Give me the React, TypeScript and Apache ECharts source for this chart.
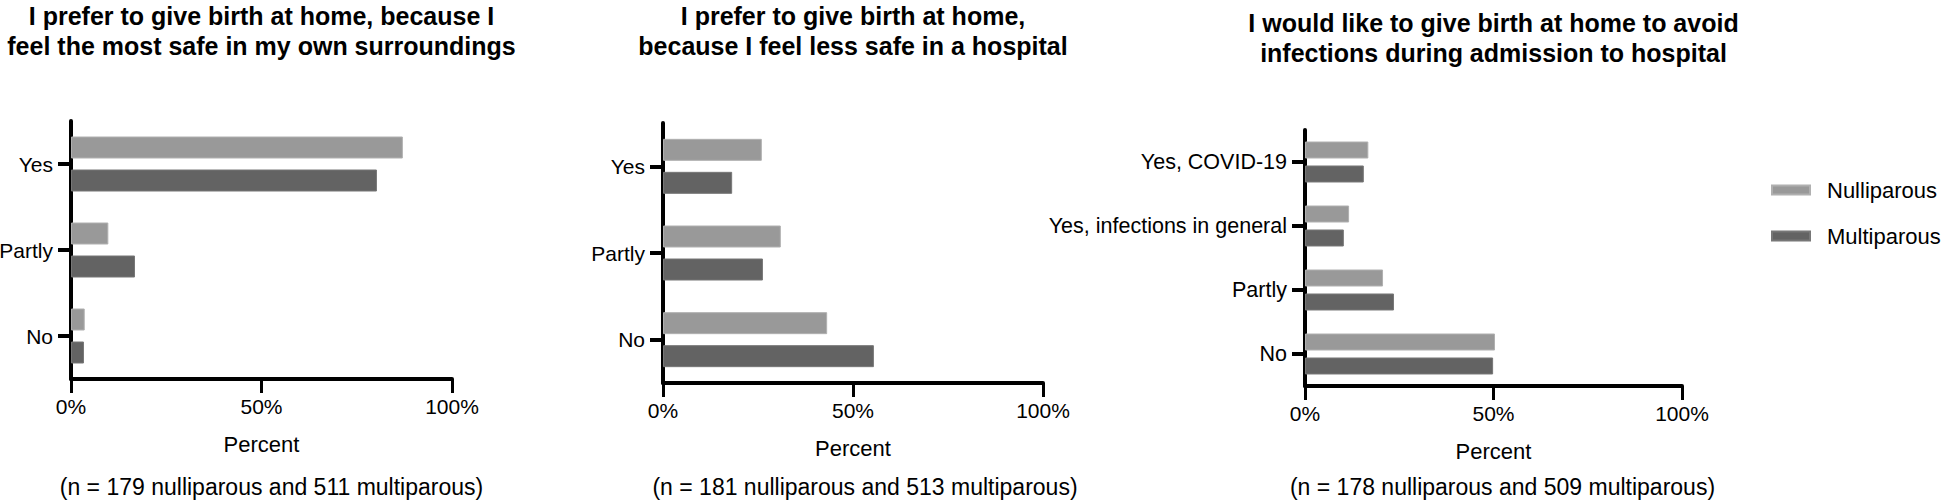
import React, { useEffect, useRef } from "react";
import * as echarts from "echarts";

const seriesNames = ["Nulliparous", "Multiparous"];

const categories1 = ["Yes", "Partly", "No"];
const nulli1 = [87.1, 9.8, 3.6];
const multi1 = [80.3, 16.8, 3.4];

const categories2 = ["Yes", "Partly", "No"];
const nulli2 = [26.0, 31.0, 43.2];
const multi2 = [18.2, 26.3, 55.5];

const categories3 = ["Yes, COVID-19", "Yes, infections in general", "Partly", "No"];
const nulli3 = [16.8, 11.7, 20.7, 50.4];
const multi3 = [15.6, 10.3, 23.6, 49.9];

const titles = [
  "I prefer to give birth at home, because I\nfeel the most safe in my own surroundings",
  "I prefer to give birth at home,\nbecause I feel less safe in a hospital",
  "I would like to give birth at home to avoid\ninfections during admission to hospital",
];
const notes = [
  "(n = 179 nulliparous and 511 multiparous)",
  "(n = 181 nulliparous and 513 multiparous)",
  "(n = 178 nulliparous and 509 multiparous)",
];
const xTicks = { min: 0, max: 100, interval: 50 };
const xName = "Percent";

const FONT = "'Liberation Sans', Arial, Helvetica, sans-serif";
const LIGHT = "#999999";
const DARK = "#636363";

// layout: left, width, top, bottom (pixels)
const panels = [
  { left: 71, width: 381, top: 121, bottom: 379, barWidth: 22, barGap: "50%", titleY: 31, labelSize: 21, noteDx: 10 },
  { left: 663, width: 380, top: 123, bottom: 383, barWidth: 22, barGap: "50%", titleY: 31, labelSize: 21, noteDx: 12 },
  { left: 1305, width: 377, top: 130, bottom: 386, barWidth: 17, barGap: "41%", titleY: 38, labelSize: 21.5, noteDx: 9 },
];

export default function App() {
  const ref = useRef<HTMLDivElement>(null);
  useEffect(() => {
    if (!ref.current) return;
    const chart = echarts.init(ref.current, null, { renderer: "svg" });
    const cats = [categories1, categories2, categories3];
    const nullis = [nulli1, nulli2, nulli3];
    const multis = [multi1, multi2, multi3];

    const grid = panels.map((p) => ({
      left: p.left,
      width: p.width,
      top: p.top,
      height: p.bottom - p.top,
      containLabel: false,
      outerBoundsMode: "none",
    }));

    const xAxis = panels.map((p, i) => ({
      type: "value",
      gridIndex: i,
      min: xTicks.min,
      max: xTicks.max,
      interval: xTicks.interval,
      name: xName,
      nameLocation: "middle",
      nameGap: 54,
      nameTextStyle: { fontFamily: FONT, fontSize: 22, color: "#000" },
      axisLine: { show: true, lineStyle: { color: "#000", width: 4 } },
      axisTick: { show: true, length: 14, lineStyle: { color: "#000", width: 3 } },
      axisLabel: {
        fontFamily: FONT,
        fontSize: 21,
        color: "#000",
        margin: 17,
        formatter: "{value}%",
      },
      splitLine: { show: false },
    }));

    const yAxis = panels.map((p, i) => ({
      type: "category",
      gridIndex: i,
      inverse: true,
      data: cats[i],
      axisLine: { show: true, lineStyle: { color: "#000", width: 4 } },
      axisTick: { show: true, length: 13, alignWithLabel: true, lineStyle: { color: "#000", width: 4 } },
      axisLabel: { fontFamily: FONT, fontSize: p.labelSize, color: "#000", margin: 18 },
    }));

    const series: any[] = [];
    panels.forEach((p, i) => {
      series.push({
        type: "bar",
        name: seriesNames[0],
        xAxisIndex: i,
        yAxisIndex: i,
        data: nullis[i],
        barWidth: p.barWidth,
        barGap: p.barGap,
        itemStyle: { color: LIGHT, borderColor: "#b0b0b0", borderWidth: 1 },
      });
      series.push({
        type: "bar",
        name: seriesNames[1],
        xAxisIndex: i,
        yAxisIndex: i,
        data: multis[i],
        barWidth: p.barWidth,
        barGap: p.barGap,
        itemStyle: { color: DARK, borderColor: "#777777", borderWidth: 1 },
      });
    });

    const graphic: any[] = [];
    panels.forEach((p, i) => {
      const cx = p.left + p.width / 2;
      graphic.push({
        type: "text",
        x: cx,
        y: p.titleY,
        style: {
          text: titles[i],
          fontFamily: FONT,
          fontSize: 25,
          fontWeight: "bold",
          lineHeight: 30,
          fill: "#000",
          textAlign: "center",
          textVerticalAlign: "middle",
        },
      });
      graphic.push({
        type: "text",
        x: cx + p.noteDx,
        y: 487,
        style: {
          text: notes[i],
          fontFamily: FONT,
          fontSize: 23,
          fill: "#000",
          textAlign: "center",
          textVerticalAlign: "middle",
        },
      });
    });

    chart.setOption({
      animation: false,
      backgroundColor: "#fff",
      grid,
      xAxis,
      yAxis,
      series,
      graphic,
      legend: {
        data: seriesNames,
        orient: "vertical",
        left: 1771,
        top: 179,
        padding: 0,
        icon: "rect",
        itemWidth: 38,
        itemHeight: 9,
        itemGap: 24,
        textStyle: { fontFamily: FONT, fontSize: 22, color: "#000", padding: [0, 0, 0, 12] },
      },
    });
    return () => chart.dispose();
  }, []);
  return (
    <div
      ref={ref}
      style={{ position: "fixed", left: 0, top: 0, width: 1946, height: 501, background: "#fff" }}
    />
  );
}
